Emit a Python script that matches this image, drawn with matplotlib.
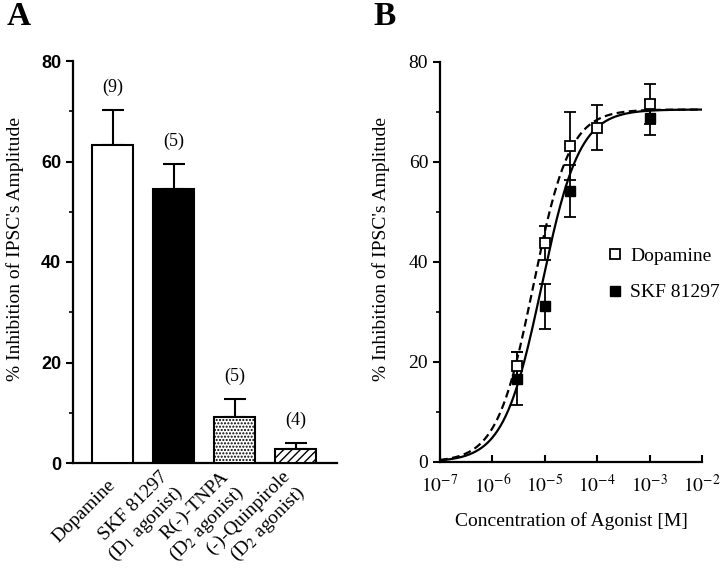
import numpy as np
import matplotlib
matplotlib.use("Agg")
import matplotlib.pyplot as plt
from matplotlib.lines import Line2D
from matplotlib.ticker import MultipleLocator, NullLocator

plt.rcParams['font.family'] = ['Liberation Serif', 'DejaVu Serif']
plt.rcParams['mathtext.fontset'] = 'stix'
plt.rcParams['hatch.linewidth'] = 1.0

# panel A data
drugs = ['Dopamine', 'SKF 81297\n(D$_1$ agonist)', 'R(-)-TNPA\n(D$_2$ agonist)',
         '(-)-Quinpirole\n(D$_2$ agonist)']
inhib_mean = [63.3, 54.6, 9.2, 2.8]
inhib_sem = [7.0, 5.0, 3.5, 1.2]
n_cells = [9, 5, 5, 4]

# panel B data
conc_da = [3e-6, 1e-5, 3e-5, 1e-4, 1e-3]
da_mean = [19.2, 43.9, 63.2, 66.9, 71.6]
da_sem = [2.8, 3.4, 6.8, 4.5, 4.0]
conc_skf = [3e-6, 1e-5, 3e-5, 1e-3]
skf_mean = [16.7, 31.2, 54.2, 68.9]
skf_sem = [5.3, 4.5, 5.2, 3.6]
# Hill fit parameters: max, log EC50, Hill coefficient
da_fit = (70.5, -5.22, 1.25)
skf_fit = (70.5, -5.06, 1.2)

W, H = 720, 579
fig = plt.figure(figsize=(7.2, 5.79), dpi=100)

# ---------- A ----------
axA = fig.add_axes([73/W, 1-463/H, 264/W, 402/H])
x = np.arange(len(drugs))
bars = axA.bar(x, inhib_mean, width=0.67, color='white', edgecolor='black',
               linewidth=1.5, zorder=3)
bars[1].set_facecolor('black')
bars[2].set_hatch('.....')
bars[3].set_hatch('////')
axA.errorbar(x, inhib_mean, yerr=[np.zeros(len(x)), inhib_sem], fmt='none',
             ecolor='black', elinewidth=1.5, capsize=8, capthick=1.5, zorder=2)
for xi, m, s, n in zip(x, inhib_mean, inhib_sem, n_cells):
    axA.text(xi, m + s + 4.5, '(%d)' % n, ha='center', va='center', fontsize=13)

axA.set_xlim(-0.648, 3.68)
axA.set_ylim(0, 80)
axA.set_xticks(x)
axA.set_xticklabels(drugs, rotation=45, ha='right', va='center',
                    rotation_mode='anchor', fontsize=14, ma='right')
axA.tick_params(axis='x', length=0, pad=14)
axA.yaxis.set_major_locator(MultipleLocator(20))
axA.yaxis.set_minor_locator(MultipleLocator(10))
axA.tick_params(axis='y', which='major', length=5, width=1.5, direction='out')
axA.tick_params(axis='y', which='minor', length=3, width=1.2, direction='out')
for lab in axA.get_yticklabels():
    lab.set_family('Liberation Sans')
    lab.set_fontsize(13)
    lab.set_weight('bold')
for sp in ['top', 'right']:
    axA.spines[sp].set_visible(False)
for sp in ['left', 'bottom']:
    axA.spines[sp].set_linewidth(1.6)
axA.set_ylabel("% Inhibition of IPSC's Amplitude", fontsize=14)
axA.yaxis.set_label_coords(-0.185, 0.532)

# ---------- B ----------
axB = fig.add_axes([440/W, 1-462/H, 262/W, 400/H])
xs = np.logspace(-7, -2, 400)
for (top, logec, nh), ls in [(da_fit, (0, (3.5, 2))), (skf_fit, '-')]:
    yfit = top * xs**nh / (xs**nh + (10**logec)**nh)
    axB.plot(xs, yfit, color='black', linestyle=ls, linewidth=1.6, zorder=2)
axB.errorbar(conc_skf, skf_mean, yerr=skf_sem, fmt='s', color='black',
             mfc='black', mec='black', ms=7, elinewidth=1.3, capsize=4.5,
             capthick=1.3, zorder=3)
axB.errorbar(conc_da, da_mean, yerr=da_sem, fmt='s', color='black',
             mfc='white', mec='black', ms=7, mew=1.3, elinewidth=1.3,
             capsize=4.5, capthick=1.3, zorder=4)
axB.set_xscale('log')
axB.set_xlim(1e-7, 1e-2)
axB.set_ylim(0, 80)
axB.set_xticks([1e-7, 1e-6, 1e-5, 1e-4, 1e-3, 1e-2])
axB.set_xticklabels(['$10^{-%d}$' % k for k in range(7, 1, -1)], fontsize=14)
axB.xaxis.set_minor_locator(NullLocator())
axB.tick_params(axis='x', length=5, width=1.5, direction='in', pad=9)
axB.yaxis.set_major_locator(MultipleLocator(20))
axB.yaxis.set_minor_locator(MultipleLocator(10))
axB.tick_params(axis='y', which='major', length=5, width=1.5, direction='out',
                labelsize=14)
axB.tick_params(axis='y', which='minor', length=3, width=1.2, direction='out')
for sp in ['top', 'right']:
    axB.spines[sp].set_visible(False)
for sp in ['left', 'bottom']:
    axB.spines[sp].set_linewidth(1.6)
axB.set_ylabel("% Inhibition of IPSC's Amplitude", fontsize=14)
axB.yaxis.set_label_coords(-0.19, 0.532)
axB.set_xlabel('Concentration of Agonist [M]', fontsize=14, labelpad=11)

handles = [Line2D([], [], marker='s', ls='none', mfc='white', mec='black',
                  mew=1.3, ms=7.5),
           Line2D([], [], marker='s', ls='none', mfc='black', mec='black', ms=7.5)]
axB.legend(handles, ['Dopamine', 'SKF 81297'], loc='upper left',
           bbox_to_anchor=(0.631, 0.537), frameon=False, fontsize=14,
           handlelength=1.0, handletextpad=0.27, labelspacing=0.98,
           borderpad=0, borderaxespad=0)

fig.text(7/W, 1-25/H, 'A', fontsize=24, weight='bold', va='baseline')
fig.text(373/W, 1-25/H, 'B', fontsize=24, weight='bold', va='baseline')

fig.savefig('out.png', dpi=100)
